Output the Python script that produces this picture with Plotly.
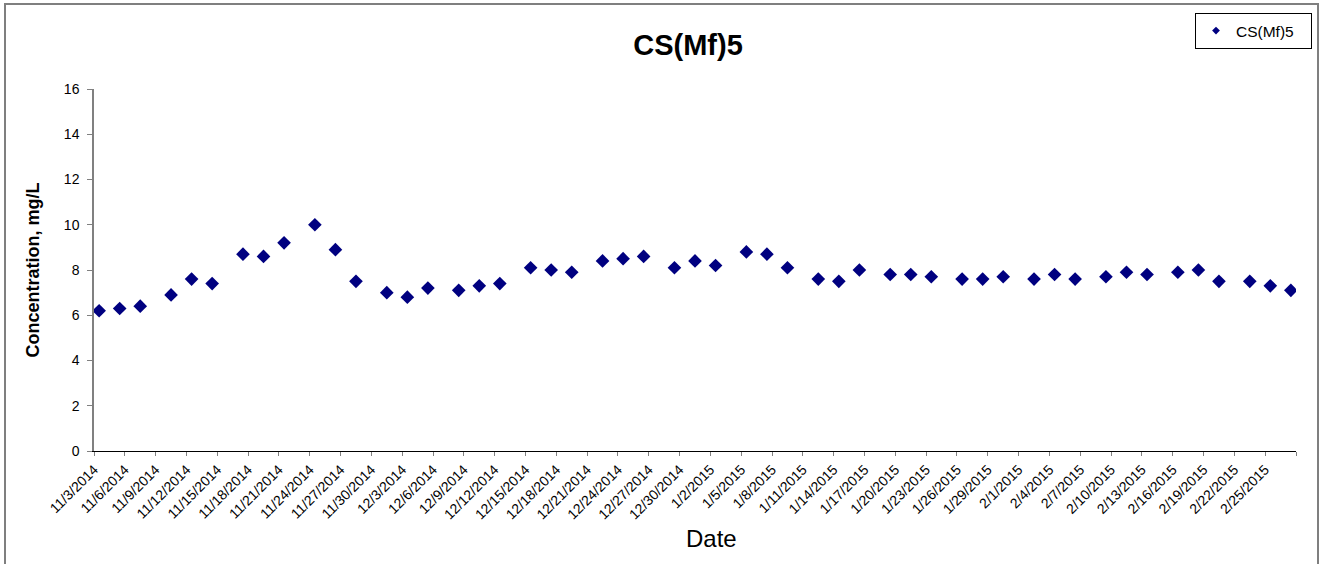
import pandas as pd
import plotly.graph_objects as go

# ---- data -------------------------------------------------------------
sample_dates = [
    "2014-11-03", "2014-11-05", "2014-11-07", "2014-11-10", "2014-11-12", "2014-11-14",
    "2014-11-17", "2014-11-19", "2014-11-21", "2014-11-24", "2014-11-26", "2014-11-28",
    "2014-12-01", "2014-12-03", "2014-12-05", "2014-12-08", "2014-12-10", "2014-12-12",
    "2014-12-15", "2014-12-17", "2014-12-19", "2014-12-22", "2014-12-24", "2014-12-26",
    "2014-12-29", "2014-12-31", "2015-01-02", "2015-01-05", "2015-01-07", "2015-01-09",
    "2015-01-12", "2015-01-14", "2015-01-16", "2015-01-19", "2015-01-21", "2015-01-23",
    "2015-01-26", "2015-01-28", "2015-01-30", "2015-02-02", "2015-02-04", "2015-02-06",
    "2015-02-09", "2015-02-11", "2015-02-13", "2015-02-16", "2015-02-18", "2015-02-20",
    "2015-02-23", "2015-02-25", "2015-02-27",
]
concentration = [
    6.2, 6.3, 6.4, 6.9, 7.6, 7.4,
    8.7, 8.6, 9.2, 10.0, 8.9, 7.5,
    7.0, 6.8, 7.2, 7.1, 7.3, 7.4,
    8.1, 8.0, 7.9, 8.4, 8.5, 8.6,
    8.1, 8.4, 8.2, 8.8, 8.7, 8.1,
    7.6, 7.5, 8.0, 7.8, 7.8, 7.7,
    7.6, 7.6, 7.7, 7.6, 7.8, 7.6,
    7.7, 7.9, 7.8, 7.9, 8.0, 7.5,
    7.5, 7.3, 7.1,
]
series_name = "CS(Mf)5"
chart_title = "CS(Mf)5"
y_title = "Concentration, mg/L"
x_title = "Date"
axis_start = "2014-11-03"
axis_end = "2015-02-28"
tick_step_days = 3
y_ticks = [0, 2, 4, 6, 8, 10, 12, 14, 16]

# ---- layout geometry --------------------------------------------------
W, H = 1319, 564
ML, MR, MT, MB = 94, 23, 89, 113
PW, PH = W - ML - MR, H - MT - MB


def px_to_paper_x(px):
    return (px - ML) / PW


def px_to_paper_y(py):
    return 1 - (py - MT) / PH


FONT = "Liberation Sans, Arial, sans-serif"
NAVY = "#000080"

# Excel date axis: each day occupies a slot; ticks at slot boundaries
half_day = pd.Timedelta(hours=12)
tick_days = pd.date_range(axis_start, axis_end, freq=f"{tick_step_days}D")
tick_vals = [d - half_day for d in tick_days]
tick_text = [f"{d.month}/{d.day}/{d.year}" for d in tick_days]
tick_text[-1] = ""

fig = go.Figure()
fig.add_trace(go.Scatter(
    x=pd.to_datetime(sample_dates), y=concentration, mode="markers",
    marker=dict(symbol="diamond", size=10.5, color=NAVY, line=dict(width=0)),
    name=series_name, showlegend=False,
))
# legend entry (smaller symbol as in the original legend)
fig.add_trace(go.Scatter(
    x=[None], y=[None], mode="markers",
    marker=dict(symbol="diamond", size=6, color=NAVY),
    name=series_name, showlegend=True,
))

fig.update_layout(
    width=W, height=H,
    margin=dict(l=ML, r=MR, t=MT, b=MB, autoexpand=False),
    paper_bgcolor="white", plot_bgcolor="white",
    font=dict(family=FONT, color="black", size=13),
    title=dict(text=f"<b>{chart_title}</b>", x=688 / W, xanchor="center",
               y=1 - 45 / H, yanchor="middle",
               font=dict(family=FONT, size=29, color="black")),
    showlegend=True,
    legend=dict(x=px_to_paper_x(1195), y=px_to_paper_y(13), xanchor="left", yanchor="top",
                orientation="h",
                bordercolor="black", borderwidth=1, bgcolor="white",
                font=dict(family=FONT, size=15.5, color="black"),
                entrywidth=70, entrywidthmode="pixels"),
    xaxis=dict(
        type="date", automargin=False,
        range=[pd.Timestamp(axis_start) - half_day, pd.Timestamp(axis_end) - half_day],
        tickmode="array", tickvals=tick_vals, ticktext=tick_text,
        tickangle=-45, tickfont=dict(family=FONT, size=14, color="black"),
        ticks="outside", ticklen=4, tickcolor="#808080", tickwidth=1,
        showline=True, linecolor="black", linewidth=1,
        showgrid=False, zeroline=False,
    ),
    yaxis=dict(
        range=[0, 16], tickmode="array", tickvals=y_ticks, automargin=False,
        ticks="outside", ticklen=5, tickcolor="#808080", tickwidth=1,
        ticklabelstandoff=5,
        tickfont=dict(family=FONT, size=14, color="black"),
        showline=True, linecolor="#808080", linewidth=1.5,
        showgrid=False, zeroline=False,
        title=dict(text=f"<b>{y_title}</b>", font=dict(family=FONT, size=18, color="black"), standoff=20),
    ),
    annotations=[dict(text=x_title, xref="paper", yref="paper",
                      x=px_to_paper_x(711), y=px_to_paper_y(538),
                      xanchor="center", yanchor="middle", showarrow=False,
                      font=dict(family=FONT, size=24, color="black"))],
    shapes=[dict(type="rect", xref="paper", yref="paper",
                 x0=px_to_paper_x(5), x1=px_to_paper_x(1318),
                 y0=px_to_paper_y(570), y1=px_to_paper_y(4),
                 line=dict(color="#7f7f7f", width=2), fillcolor="rgba(0,0,0,0)", layer="below")],
)

fig.write_html("out.html", config={"displayModeBar": False},
               post_script="document.body.style.margin='0';document.body.style.overflow='hidden';")
